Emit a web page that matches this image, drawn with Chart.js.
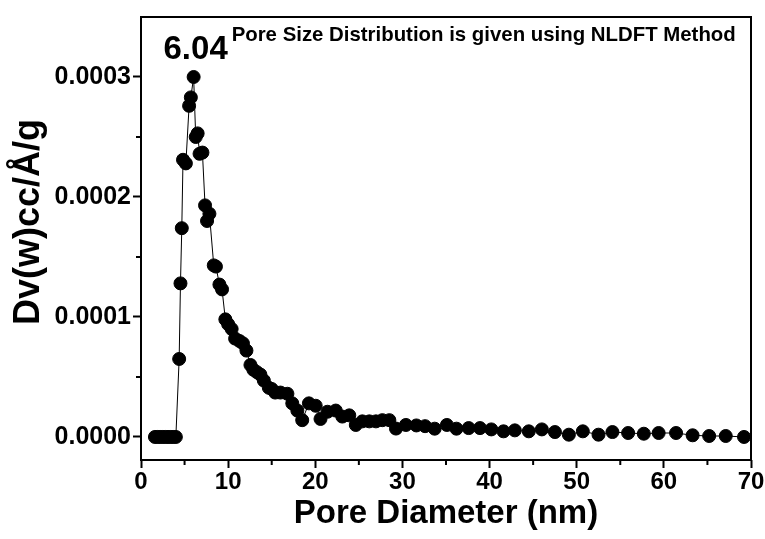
<!DOCTYPE html>
<html>
<head>
<meta charset="utf-8">
<script src="https://cdn.jsdelivr.net/npm/chart.js@4.4.0/dist/chart.umd.min.js"></script>
<style>
  html, body { margin: 0; padding: 0; background: #fff; }
  #wrap { width: 765px; height: 539px; }
</style>
</head>
<body>
<div id="wrap"><canvas id="psd"></canvas></div>
<script>
// Pore size distribution (NLDFT)
var poreDiameter = [1.6, 1.9, 2.2, 2.5, 2.8, 3.1, 3.4, 3.7, 4.0,
  4.38, 4.53, 4.68, 4.82, 5.15, 5.52, 5.72, 6.04, 6.28, 6.5, 6.72, 7.05,
  7.35, 7.58, 7.85, 8.35, 8.6, 9.0, 9.3, 9.68, 10.0, 10.4, 10.8, 11.3, 11.7,
  12.1, 12.56, 12.9, 13.3, 13.7, 14.1, 14.67, 15.0, 15.4, 16.0, 16.8, 17.36,
  17.94, 18.5, 19.27, 20.05, 20.6, 21.4, 22.35, 23.1, 23.9, 24.65, 25.4, 26.2,
  26.96, 27.7, 28.5, 29.26, 30.4, 31.6, 32.6, 33.7, 35.1, 36.2, 37.6, 38.9,
  40.2, 41.6, 42.9, 44.5, 46.0, 47.5, 49.1, 50.7, 52.5, 54.1, 55.9, 57.7,
  59.4, 61.4, 63.3, 65.2, 67.1, 69.2];

var dvw = [0, 0, 0, 0, 0, 0, 0, 0, 0,
  0.000065, 0.000128, 0.000174, 0.000231, 0.000228, 0.000276, 0.000283, 0.000300, 0.000250, 0.000253, 0.000236, 0.000237,
  0.000193, 0.000180, 0.000186, 0.000143, 0.000142, 0.000127, 0.000123, 0.000098, 0.000094, 0.000090, 0.000082, 0.000080, 0.000078,
  0.000072, 0.000060, 0.000056, 0.000054, 0.000052, 0.000047, 0.000041, 0.000040, 0.000037, 0.000037, 0.000036, 0.000028,
  0.000022, 0.000014, 0.000028, 0.000026, 0.000015, 0.000021, 0.000022, 0.000017, 0.000018, 0.000010, 0.000013, 0.000013,
  0.000013, 0.000014, 0.000014, 0.000007, 0.000010, 0.0000096, 0.000009, 0.0000069, 0.000010, 0.0000069, 0.0000074, 0.0000074,
  0.0000063, 0.0000047, 0.0000055, 0.0000047, 0.0000063, 0.0000041, 0.0000019, 0.0000047, 0.0000019, 0.0000041, 0.0000033, 0.0000027,
  0.0000033, 0.0000033, 0.0000014, 0.0000008, 0.0000008, 0];

var xTicks = [0, 10, 20, 30, 40, 50, 60, 70];
var xMinorTicks = [5, 15, 25, 35, 45, 55, 65];
var yTicks = [0, 0.0001, 0.0002, 0.0003];
var yMinorTicks = [0.00005, 0.00015, 0.00025];

var yTitle = 'Dv(w)cc/Å/g';
var xTitle = 'Pore Diameter (nm)';
var peakLabel = '6.04';
var noteText = 'Pore Size Distribution is given using NLDFT Method';

var points = poreDiameter.map(function (d, i) { return { x: d, y: dvw[i] }; });

var FONT = '"Liberation Sans", Arial, sans-serif';

// frame, minor ticks and text notes
var extras = {
  id: 'extras',
  afterDraw: function (chart) {
    var ctx = chart.ctx, a = chart.chartArea;
    var xs = chart.scales.x, ys = chart.scales.y;
    ctx.save();
    ctx.strokeStyle = '#000';
    ctx.lineWidth = 2;
    ctx.strokeRect(a.left, a.top, a.right - a.left, a.bottom - a.top);
    ctx.beginPath();
    xMinorTicks.forEach(function (v) {
      var px = xs.getPixelForValue(v);
      ctx.moveTo(px, a.bottom);
      ctx.lineTo(px, a.bottom + 5);
    });
    yMinorTicks.forEach(function (v) {
      var py = ys.getPixelForValue(v);
      ctx.moveTo(a.left, py);
      ctx.lineTo(a.left - 5, py);
    });
    ctx.stroke();

    ctx.fillStyle = '#000';
    ctx.textAlign = 'center';
    ctx.textBaseline = 'alphabetic';
    ctx.font = 'bold 33px ' + FONT;
    ctx.fillText(peakLabel, xs.getPixelForValue(6.04) + 2, ys.getPixelForValue(0.0003) - 18);

    ctx.textAlign = 'left';
    ctx.font = 'bold 20.4px ' + FONT;
    ctx.fillText(noteText, xs.getPixelForValue(10.4), a.top + 24);

    // y axis title, rotated
    ctx.save();
    ctx.translate(29, 222);
    ctx.rotate(-Math.PI / 2);
    ctx.textAlign = 'center';
    ctx.textBaseline = 'middle';
    ctx.font = 'bold 36px ' + FONT;
    ctx.fillText(yTitle, 0, 0);
    ctx.restore();
    ctx.restore();
  }
};

var config = {
  type: 'line',
  data: {
    datasets: [{
      data: points,
      borderColor: '#000',
      borderWidth: 1,
      backgroundColor: '#000',
      pointBackgroundColor: '#000',
      pointBorderColor: '#000',
      pointRadius: 6.5,
      pointBorderWidth: 1,
      tension: 0,
      clip: false
    }]
  },
  options: {
    responsive: true,
    maintainAspectRatio: false,
    animation: false,
    layout: { padding: { top: 12, right: 14, left: 0, bottom: 0 } },
    plugins: { legend: { display: false }, tooltip: { enabled: false } },
    scales: {
      x: {
        type: 'linear',
        min: 0,
        max: 70,
        afterBuildTicks: function (s) { s.ticks = xTicks.map(function (v) { return { value: v }; }); },
        afterFit: function (s) { s.height = 79; },
        border: { display: false },
        grid: { display: true, drawOnChartArea: false, drawTicks: true, tickLength: 8, tickWidth: 2, tickColor: '#000' },
        ticks: { color: '#000', padding: 0, maxRotation: 0, font: { family: FONT, size: 24, weight: 'bold' } },
        title: {
          display: true,
          text: xTitle,
          color: '#000',
          padding: { top: 0, bottom: 5 },
          font: { family: FONT, size: 33, weight: 'bold' }
        }
      },
      y: {
        type: 'linear',
        min: -0.0000192,
        max: 0.000350,
        afterBuildTicks: function (s) { s.ticks = yTicks.map(function (v) { return { value: v }; }); },
        afterFit: function (s) { s.width = 141; },
        border: { display: false },
        grid: { display: true, drawOnChartArea: false, drawTicks: true, tickLength: 8, tickWidth: 2, tickColor: '#000' },
        ticks: {
          color: '#000',
          padding: 2,
          font: { family: FONT, size: 25, weight: 'bold' },
          callback: function (v) { return Number(v).toFixed(4); }
        },
        title: { display: false }
      }
    }
  },
  plugins: [extras]
};

new Chart(document.getElementById('psd'), config);
</script>
</body>
</html>
